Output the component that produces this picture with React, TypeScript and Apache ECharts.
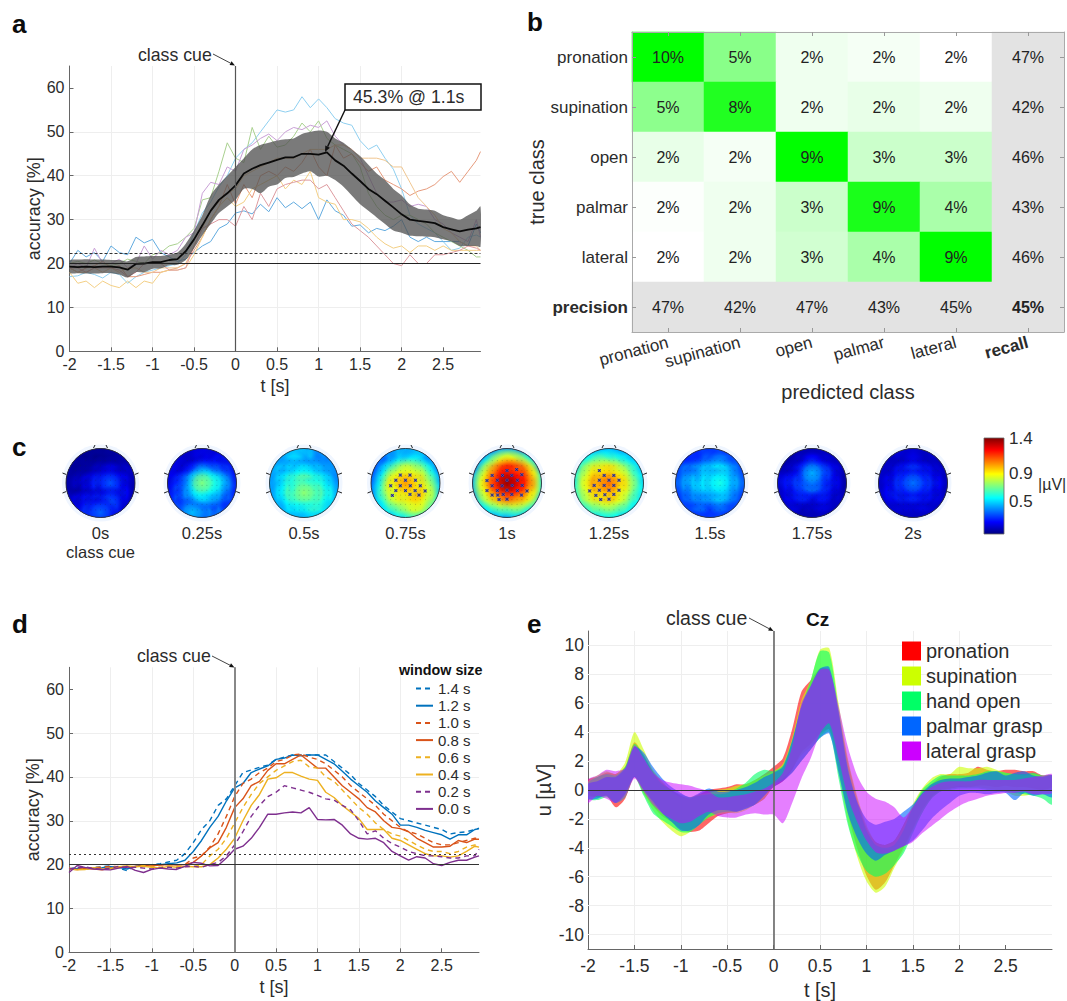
import React, { useEffect, useRef } from "react";
import * as echarts from "echarts";

const FONT = "Liberation Sans";
const INK = "#2b2b2b";

// ---------- panel a / d ----------
const timeA = [-2,-1.9,-1.8,-1.7,-1.6,-1.5,-1.4,-1.3,-1.2,-1.1,-1,-0.9,-0.8,-0.7,-0.6,-0.5,-0.4,-0.3,-0.2,-0.1,0,0.1,0.2,0.3,0.4,0.5,0.6,0.7,0.8,0.9,1,1.1,1.2,1.3,1.4,1.5,1.6,1.7,1.8,1.9,2,2.1,2.2,2.3,2.4,2.5,2.6,2.7,2.8,2.9,2.95];
const meanAcc = [19.3,19.2,19.3,19.2,19.3,19.3,19.1,18.6,19.9,20,20.3,20.3,20.8,21,22.8,25.5,28.7,32,34.5,36,37.8,40.5,41.6,42.4,43,43.6,44.2,44.2,45,45,44.8,45.3,43.5,42.3,40.5,38.8,37,35.8,34.3,32.8,31.2,30,29.7,29.5,29.2,28.3,27.8,27.3,27.7,28,28.3];
const upperAcc = [20.7,20.9,21,20.9,20.9,20.8,20.8,20.5,21.5,21.6,21.7,21.7,22,22.5,24.5,27.5,31,35.5,38,40,42,44,46,47,47.5,48,48.3,48.5,49.5,50,50.3,50,48.5,47.5,46,44.5,42.5,40.5,39,37,35.5,33.5,32.5,32.3,32,31,30.5,30,31,32,33];
const lowerAcc = [17.9,17.8,17.7,17.7,17.8,17.8,17.5,16.8,18,18,18.8,18.9,19.6,19.7,20.8,23.5,26.4,29,31.5,33,34.5,37,37,36,37.5,38,39.5,39.7,40.5,41,39.8,40,39,37.5,35.5,33.5,32,30.5,29,27.5,27,26.3,26.2,26.1,26,25.5,25,24,24,24,23.8];
const subj1 = [17,17.2,18,17.5,16.7,18,17.5,15.5,17,18,18.5,19,19.5,20,22,27,31.5,34,37.5,40,44,46,47.5,50,52.5,55,54.5,55,58,55.5,57.5,55.5,53,52,51.5,48,46,47,44,41.5,37,31,29,28,27,25,23,23.5,26,26.5,26];
const subj2 = [20,23,21.5,22.5,20.5,24,22.5,22,26,24.7,25.5,22.5,21.5,20.5,21,22.5,24,25,28,29,31.5,32,31.3,33.5,31.8,35,32.7,34,32.5,34,30,34.5,32,31,28.5,28.8,27,28,27.5,28.5,30,26,25,26,25,25,25,25,24,29,27];
const subj3 = [20,20.5,20,20.8,20,19.5,20,21,20.5,20,22,22.5,24,24.5,26,28,34.5,35,41,47.5,44,43,51,46,49,46.5,47,49,52,50,52.5,48.5,47,46,45,42,36,33,31,30,31,31,30,29,27,26,25,24,23,21.5,21.5];
const subj4 = [19,20,19,23.5,20,20,21,19,20,24,21,23,22,23,26,27,36,38.5,38,42,41,46,47,48.5,49.5,48,50,51,50.5,51.5,51,52.5,49,47,46,44,40,36,34,34,34.5,33,33.5,33,30,29,27,26,25,30,26];
const subj5 = [19,18,19,19.5,20.5,19,19.5,17,17,17.5,18,18,18.5,19,20,23,26,30,33,38,33.5,38,35,40,41,40,42,41,43,46,42,40,47,44,45,43,41,42,39,38,37,35.5,36.5,37,38,39.8,41,38.5,41,43.5,45.5];
const subj6 = [18,15.5,16,14.5,16,15,14.5,16,14.5,16,15.5,18,18.5,18.5,19,22,26,30,33,35,33,34,37,38,39,40,37,39,38,41,35,34,33.5,30,30,29.5,28,26,24.5,23.5,24,22.5,24,24,23,24,23,23,23,23,23];
const subj7 = [19,18,18,19,18,19,18,19,19,18,18,19,19,19,20,24,28,32,34,36,37,40,41,42,43,44,44,44,45,46,46,46,47,47,46,44,44,44,43.5,42,42,38.5,35,33,31,28,27,25,24,24,23];
const subj8 = [19,19,18,19,19,19,18.5,17,18,20,20,20,18.5,18.5,19,24,28,29,30,30,28.5,33,30,36,33,37,38,38.5,39,39,37,38,35,32,29,27.5,26,24,22,20,19.5,22,20,20,22,22,22.5,23,24,23.5,23];
const subjectSeries = [subj1, subj2, subj3, subj4, subj5, subj6, subj7, subj8];
const subjectColors = ["#8ecff0", "#62abdf", "#a9d08f", "#c9a0d6", "#e69a7c", "#f3cf85", "#f0c690", "#dd9a9f"];

const win14 = [19,19.4,19,19.3,19.5,19.7,19.2,18.6,19.7,20,20,20.2,20.6,21,22.5,25,28,30,33.5,35,38,41,41.6,42.2,42.7,44,44.5,45,45,45,45,45,43.5,42,40.5,38.5,37,35.5,33.5,32,30.5,30,29.5,29,28.5,28,27,27.3,27.5,28,28.3];
const win12 = [19,19.1,19.3,19.2,19.3,19.5,19.4,19,19.6,19.9,20,20,20.2,20.4,21,23,25.5,28.5,31,34.5,37.5,38.5,41,41.8,42.5,44,44.3,45,44.8,45,45,44,43,41.3,39.5,38,36.5,34.5,33,31.5,29,29,28.5,27.8,27.3,26.8,25.8,26.8,26.8,28,28.2];
const win10 = [19.2,19,19.2,19.3,19.4,19.6,19.5,19.4,19.6,19.8,19.9,20,20,20,20,21.5,22,24,27,31,35.5,38.5,39.5,41,42,43.5,44,45,45.2,44.5,44,43,41.5,40,38,36.5,35,33.5,31.5,30,28.5,27.5,27,26,25,24.5,24.5,25,25.5,26,26];
const win08 = [19,18.9,19.1,19,18.8,19.2,19.3,19.5,19.6,19.8,19.7,19.9,20,19.9,20,20.5,22,23.8,25,28.5,33,35,38,39,41.5,43,43,44,45,43.5,42,42,40,38,36.5,35,33,32,30,28.5,28.2,27.5,26,25,24,24,24.2,25.5,25,25.8,25.8];
const win06 = [19.1,18.9,19,19.2,19,19.3,19.6,19.6,19.5,19.8,19.6,19.4,19.7,19.5,19.7,19.6,20,22,23.5,26,29.5,33,36,38.5,40,41.5,42.5,43.5,43.8,42.3,42,40,39,37,35,33,31.5,29.5,28,27,26.5,25.5,24.5,23.5,23,23,22.5,23,24,24.5,24];
const win04 = [19,18.8,18.9,19.3,19,19.1,19.5,19.7,19.5,19.6,19.4,19.2,19.6,19.4,19.6,19.5,19.5,20,21.5,23.5,26,30,33.5,36,39.5,39.8,41,41,40.2,39.5,39.2,36.5,35.3,33.5,32,30.5,28,28,28,26,25.5,24.5,23.5,22.5,22,22,21.7,22,23,24.2,24];
const win02 = [19,19.2,19.5,19.1,18.9,19.2,19.6,19.3,19.4,19.2,19,19.2,19.4,19.2,19.5,19.6,19.4,20,20.5,22,24.5,27.5,31,33.5,35.5,36.5,38,37.5,37,36.5,35.8,35,34.7,33.5,32.5,30,27,27.7,26,24.8,24,23,22.5,22,22,21.8,21.5,21.5,22,22,23.5];
const win00 = [18.2,19.8,19.3,19,18.9,18.8,19.2,19.6,18.7,18.2,18.9,19.2,19,18.9,19.6,20.5,20.3,19.7,19.8,21.5,23.5,24.2,26,28.5,31.5,31.5,31.8,32,31.8,33,30.3,30.2,30.3,29,27,26,25.8,26,25,23,22,21,21.8,21.5,20.2,19.8,20.5,21,21,21.7,22];
const windowNames = ["1.4 s", "1.2 s", "1.0 s", "0.8 s", "0.6 s", "0.4 s", "0.2 s", "0.0 s"];
const windowValues = [win14, win12, win10, win08, win06, win04, win02, win00];
const windowColors = ["#0072BD", "#0072BD", "#D95319", "#D95319", "#EDB120", "#EDB120", "#7E2F8E", "#7E2F8E"];

// ---------- panel b ----------
const classes = ["pronation", "supination", "open", "palmar", "lateral"];
const confusion = [
  [10.4, 5.2, 2.1, 1.9, 1.6],
  [5.1, 8.4, 2.1, 2.3, 2.1],
  [2.3, 1.9, 9.4, 3.2, 3.2],
  [1.7, 2.1, 3.2, 8.6, 4.2],
  [1.6, 2.1, 3.0, 4.2, 9.4],
];
const recallValues = [47, 42, 46, 43, 46];
const precisionValues = [47, 42, 47, 43, 45];
const overallValue = 45;

// ---------- panel c ----------
const topoLabels = ["0s", "0.25s", "0.5s", "0.75s", "1s", "1.25s", "1.5s", "1.75s", "2s"];
const topo0 = [[.12,.10,.08,.08,.10,.12,.14],[.12,.10,.08,.10,.12,.14,.16],[.12,.12,.14,.20,.22,.20,.18],[.14,.18,.24,.30,.32,.26,.16],[.16,.16,.24,.28,.30,.26,.14],[.20,.24,.28,.30,.32,.24,.12],[.22,.26,.32,.34,.30,.20,.14]];
const topo1 = [[.20,.18,.16,.22,.24,.24,.24],[.22,.18,.14,.20,.24,.28,.30],[.22,.18,.28,.42,.40,.34,.30],[.26,.32,.46,.72,.62,.46,.30],[.30,.38,.46,.56,.52,.42,.32],[.32,.38,.42,.44,.42,.38,.34],[.34,.40,.46,.44,.42,.38,.36]];
const topo2 = [[.50,.48,.54,.52,.42,.42,.44],[.50,.50,.54,.50,.42,.40,.42],[.50,.54,.56,.56,.54,.48,.40],[.50,.56,.68,.72,.66,.56,.42],[.50,.56,.70,.74,.72,.62,.50],[.50,.54,.60,.62,.66,.60,.50],[.48,.50,.54,.54,.56,.52,.50]];
const topo3 = [[.30,.42,.50,.56,.56,.46,.40],[.30,.42,.50,.56,.56,.48,.42],[.34,.50,.72,.88,.84,.62,.44],[.38,.62,.96,1.02,1.0,.78,.48],[.40,.66,.92,.98,1.0,.86,.52],[.42,.58,.72,.82,.92,.78,.52],[.44,.50,.54,.62,.66,.58,.50]];
const topo4 = [[.24,.30,.38,.42,.38,.30,.20],[.30,.46,.76,.92,.84,.56,.28],[.38,.78,1.08,1.26,1.22,.96,.46],[.46,.92,1.18,1.36,1.28,1.06,.56],[.42,.84,1.04,1.14,1.10,.96,.54],[.38,.58,.72,.78,.78,.66,.44],[.34,.40,.46,.48,.48,.42,.34]];
const topo5 = [[.50,.42,.44,.50,.48,.46,.42],[.54,.62,.70,.68,.62,.56,.48],[.58,.84,.98,.98,.86,.68,.54],[.62,.90,1.08,1.08,.98,.76,.58],[.62,.86,1.00,1.02,.92,.72,.58],[.58,.70,.78,.80,.74,.62,.54],[.52,.56,.58,.60,.58,.54,.50]];
const topo6 = [[.34,.30,.28,.36,.36,.34,.32],[.30,.26,.32,.40,.42,.40,.34],[.38,.44,.48,.56,.58,.46,.38],[.40,.48,.54,.58,.58,.50,.40],[.36,.42,.48,.50,.54,.44,.38],[.34,.38,.40,.38,.40,.38,.36],[.30,.34,.36,.36,.36,.34,.34]];
const topo7 = [[.16,.12,.14,.18,.18,.16,.16],[.10,.12,.20,.26,.22,.20,.14],[.14,.20,.28,.44,.34,.24,.12],[.24,.28,.34,.42,.32,.24,.12],[.22,.26,.30,.28,.28,.22,.14],[.18,.22,.20,.20,.22,.20,.16],[.16,.16,.16,.18,.18,.16,.16]];
const topo8 = [[.20,.18,.20,.20,.18,.18,.16],[.18,.14,.18,.22,.18,.14,.12],[.18,.20,.28,.32,.28,.22,.14],[.20,.26,.32,.36,.32,.26,.16],[.20,.26,.30,.30,.28,.24,.14],[.18,.22,.22,.22,.22,.20,.14],[.16,.18,.18,.18,.18,.18,.14]];
const topoValues = [topo0, topo1, topo2, topo3, topo4, topo5, topo6, topo7, topo8];
const crosses3 = [[-.43,-.08],[-.28,.08],[-.15,.23],[.13,.23],[0,.08],[.29,.08],[-.15,-.08],[.14,-.08],[.43,-.08],[-.28,-.22],[0,-.22],[.28,-.22],[.57,-.23],[-.38,-.36],[.13,-.33],[.39,-.35]];
const crosses4 = [[-.58,.07],[-.43,.22],[-.28,.08],[-.13,.22],[0,.36],[.14,.22],[.28,.39],[.43,.24],[.30,.08],[0,.08],[-.43,-.08],[-.28,-.22],[-.14,-.08],[0,-.21],[.15,-.07],[.44,-.07],[.30,-.22],[.58,-.23],[-.58,-.22],[-.43,-.35],[-.27,-.35],[-.11,-.33],[.14,-.33],[.42,-.35],[-.23,-.48],[0,-.47]];
const crosses5 = [[-.28,.36],[-.14,.22],[.14,.22],[-.28,.08],[0,.08],[.29,.08],[-.43,-.07],[-.14,-.07],[.14,-.07],[-.28,-.21],[0,-.21],[.29,-.21],[-.56,-.23],[-.38,-.36],[-.12,-.34],[.14,-.33],[-.24,-.48],[0,-.47]];
const crossLists: Record<number, number[][]> = { 3: crosses3, 4: crosses4, 5: crosses5 };
const electrodeRows = [.65, .5, .36, .22, .08, -.07, -.21, -.35, -.48, -.62, -.78];
const electrodeCols = [-.72, -.58, -.43, -.28, -.14, 0, .14, .29, .43, .58, .72];
const colorbarTicks = [0.5, 0.9, 1.4];

// ---------- panel e ----------
const timeE = [-2,-1.9,-1.8,-1.7,-1.6,-1.5,-1.4,-1.3,-1.2,-1.1,-1,-0.9,-0.8,-0.7,-0.6,-0.5,-0.4,-0.3,-0.2,-0.1,0,0.1,0.2,0.3,0.4,0.5,0.6,0.7,0.8,0.9,1,1.1,1.2,1.3,1.4,1.5,1.6,1.7,1.8,1.9,2,2.1,2.2,2.3,2.4,2.5,2.6,2.7,2.8,2.9,3];
const pronHi = [.7,.9,1.2,1.1,1.6,3.3,2.4,1.3,.5,0,-.4,-.6,-.3,0,.1,.2,.4,.4,.7,1.1,1.6,2.2,4.2,6.8,7.6,8.4,8.3,5.4,2,-.6,-2.6,-3.6,-3.8,-3.5,-2.4,-1.2,-.1,.4,.9,1.1,1.1,1.2,1.6,1.4,1.3,1.4,1.4,1.3,1.3,1,1];
const pronLo = [-.3,-.5,-.4,-1.2,-.6,.9,-.2,-1.1,-1.8,-2.2,-2.7,-2.9,-2.8,-2.3,-1.8,-1.6,-1.5,-1.2,-1,-.6,.2,.6,1.4,2.6,3.2,3.9,4.2,1.6,-1.6,-4,-5.9,-6.9,-6.4,-5.2,-4,-2.7,-1.4,-.5,0,.1,.2,.2,.3,.3,.2,.3,.2,.2,.1,0,.2];
const supHi = [.6,1,1.3,1.1,1.9,4,2.8,1.4,.6,-.1,-.5,-.5,-.3,-.2,0,.1,.3,.4,.7,1,1.3,1.8,3.6,6.2,7.6,9.7,9.8,6,2.2,-.4,-2.4,-3.6,-3.8,-3.5,-2.4,-1,.1,.8,1.1,1.1,1.6,1.5,1.5,1.6,1.4,1.2,1.1,1,1.1,1,1];
const supLo = [-.4,-.5,-.4,-.8,-.5,1,-.3,-1.4,-2.2,-2.8,-3.2,-2.9,-2.3,-1.9,-1.7,-1.6,-1.6,-1.4,-1,-.6,.3,.8,1.5,2.4,3,3.7,4.2,1.2,-2.2,-4.6,-6.3,-7.1,-6.7,-5.4,-4.2,-2.8,-1.6,-.6,-.1,.1,.3,.2,.2,.1,0,-.1,-.4,-.4,-.3,-.2,-.1];
const openHi = [.5,.9,1.1,1,1.6,3.2,2.4,1.2,.4,0,-.3,-.5,-.4,-.3,-.3,-.2,.1,.5,1.1,1.4,1.3,1.7,3.4,5.8,7.6,9.6,9.5,5.6,1.6,-.9,-2.8,-3.8,-4,-3.8,-2.8,-1.2,0,.6,1,1,1,1,1.1,1.3,1.3,1.2,1.1,1.1,1.2,1,1];
const openLo = [-.6,-.7,-.5,-.9,-.5,.9,-.4,-1.6,-2.1,-2.5,-2.9,-2.9,-2.4,-1.9,-1.6,-1.5,-1.5,-1.3,-1,-.4,.4,.7,1.2,2,2.8,3.6,4,.8,-2.4,-4.4,-5.6,-6,-5.8,-5.2,-4.4,-3,-1.6,-.6,-.1,0,.1,.1,.1,0,-.1,-.1,-.2,-.3,-.4,-.6,-1];
const palmHi = [.4,.6,.9,.9,1.5,3,2.6,1.6,.8,.2,-.2,-.5,-.2,.1,-.1,-.1,0,.2,.5,.9,1.2,1.6,3.4,5.8,7.2,8.4,8.5,5.4,1.4,-.8,-2,-2.4,-2.2,-2,-1.5,-1,-.2,.4,.7,.8,.8,.9,1,1.2,1.3,1,1.2,1.3,1,.9,1];
const palmLo = [-.6,-.6,-.4,-.9,-.3,.9,0,-.8,-1.6,-2.2,-2.8,-2.8,-2.4,-1.7,-1.4,-1.4,-1.5,-1.3,-1,-.4,.2,.6,1.2,2,2.8,3.6,3.9,1.2,-1.6,-3.3,-4.4,-4.9,-4.5,-4.2,-3.9,-3.5,-2.8,-2,-1.4,-.9,-.4,-.2,-.2,-.3,-.2,-.2,-.7,-.2,-.4,-.3,-.5];
const latHi = [.7,1,1.4,1.3,1.5,3.1,2.2,1.2,.7,.5,.4,.3,.1,-.1,-.5,-.5,-.4,-.3,-.1,.1,.5,1.2,3,6,7.2,8.3,8.3,5.8,3,1,-.1,-.6,-.8,-1.2,-1.9,-1.2,-.3,.2,.5,.6,.6,.6,.7,.7,.7,.7,.7,.8,.9,1,1.1];
const latLo = [-.9,-.4,-.6,-.9,-.5,.8,-.1,-1,-1.6,-2,-2.3,-2.2,-1.8,-1.5,-1.8,-1.9,-1.9,-1.7,-1.6,-1.7,-1.7,-2.3,-.9,.8,2.2,3.9,4.6,2.2,-.5,-2.2,-3.5,-4.3,-4.4,-4.2,-3.9,-3.6,-3,-2.5,-2,-1.5,-1.1,-.8,-.6,-.4,-.3,-.2,-.2,-.1,-.3,-.3,-.2];
const erpNames = ["pronation", "supination", "hand open", "palmar grasp", "lateral grasp"];
const erpHi = [pronHi, supHi, openHi, palmHi, latHi];
const erpLo = [pronLo, supLo, openLo, palmLo, latLo];
const erpColors = ["#ff0000", "#ccff00", "#00ff66", "#0066ff", "#cc00ff"];
const erpOpacity = [0.6, 0.6, 0.6, 0.6, 0.5];

const accTicks = [0, 10, 20, 30, 40, 50, 60];
const timeTicks = [-2, -1.5, -1, -0.5, 0, 0.5, 1, 1.5, 2, 2.5];
const erpTicks = [-10, -8, -6, -4, -2, 0, 2, 4, 6, 8, 10];

// ---------- helpers ----------
const clamp = (v: number) => Math.max(0, Math.min(1, v));
const CBAR_MIN = 0.04, CBAR_MAX = 1.4;
function jet(v: number, a = 1) {
  const f = (v - CBAR_MIN) / (CBAR_MAX - CBAR_MIN);
  const c = (k: number) => Math.round(255 * clamp(1.5 - Math.abs(4 * f - k)));
  return `rgba(${c(3)},${c(2)},${c(1)},${a})`;
}

const axisLabelStyle = { color: INK, fontFamily: FONT, fontSize: 16, margin: 5 };
const nameStyle = { color: INK, fontFamily: FONT, fontSize: 18 };
const bigName = { color: INK, fontFamily: FONT, fontSize: 20 };
const axisLineGray = { show: true, onZero: false, lineStyle: { color: "#666", width: 1 } };
const gridLine = { show: true, lineStyle: { color: "#eeeeee", width: 1, type: "solid" } };

function timeAxis(gridIndex: number, max: number, big = false) {
  return {
    type: "value", gridIndex, min: -2, max, interval: 0.5, name: "t [s]", nameLocation: "middle",
    nameGap: big ? 31 : 26, nameTextStyle: big ? bigName : nameStyle,
    axisLine: axisLineGray,
    axisTick: { show: true, inside: true, length: 4, customValues: timeTicks, lineStyle: { color: "#666" } },
    axisLabel: {
      ...axisLabelStyle, fontSize: big ? 17.5 : 16, margin: big ? 8 : 5,
      customValues: timeTicks, formatter: (v: number) => String(v),
    },
    splitLine: { ...gridLine, showMaxLine: false, showMinLine: false },
  };
}
function accAxis(gridIndex: number) {
  return {
    type: "value", gridIndex, min: 0, max: 65, interval: 10, name: "accuracy [%]", nameLocation: "middle",
    nameGap: 18, nameTextStyle: nameStyle,
    axisLine: axisLineGray,
    axisTick: { show: true, inside: true, length: 4, customValues: accTicks, lineStyle: { color: "#666" } },
    axisLabel: { ...axisLabelStyle, customValues: accTicks },
    splitLine: { ...gridLine, showMaxLine: false, showMinLine: false },
  };
}
function refLines(xi: number, yi: number, items: any[], z = 8) {
  return {
    type: "line", xAxisIndex: xi, yAxisIndex: yi, data: [], z, silent: true,
    markLine: { z, silent: true, symbol: ["none", "none"], label: { show: false }, animation: false, data: items },
  };
}
function bandSeries(xi: number, yi: number, t: number[], lo: number[], hi: number[], fill: string, name: string, opaque: string, z: number) {
  return {
    type: "custom", name, xAxisIndex: xi, yAxisIndex: yi, z, silent: true, clip: true,
    itemStyle: { color: opaque },
    encode: { x: 0, y: [1, 2] },
    data: t.map((x, i) => [x, lo[i], hi[i]]),
    renderItem: (params: any, api: any) => {
      if (params.dataIndex !== 0) return null;
      const top = t.map((x, i) => api.coord([x, hi[i]]));
      const bot = t.map((x, i) => api.coord([x, lo[i]])).reverse();
      return { type: "polygon", shape: { points: top.concat(bot), smooth: 0.25 }, style: { fill, stroke: "none" } };
    },
  };
}
function arrow(x1: number, y1: number, x2: number, y2: number, width: number, head: number) {
  const a = Math.atan2(y2 - y1, x2 - x1);
  const px = Math.cos(a + Math.PI / 2) * head * 0.42, py = Math.sin(a + Math.PI / 2) * head * 0.42;
  const bx = x2 - Math.cos(a) * head, by = y2 - Math.sin(a) * head;
  return [
    { type: "line", z: 20, shape: { x1, y1, x2: bx, y2: by }, style: { stroke: "#111", lineWidth: width } },
    { type: "polygon", z: 20, shape: { points: [[x2, y2], [bx + px, by + py], [bx - px, by - py]] }, style: { fill: "#111" } },
  ];
}
function txt(x: number, y: number, text: string, fontSize: number, extra: any = {}) {
  return {
    type: "text", z: 20, x, y,
    style: { text, fontFamily: FONT, fontSize, fill: INK, textVerticalAlign: "middle", verticalAlign: "middle", ...extra },
  };
}

// ---------- options ----------
const HEAD_R = 34.5;
const HEAD_Y = 483;
const HEAD_X = [100.5, 202, 304, 405.5, 507, 609, 710, 812, 913];

function buildOption() {
  const grid: any[] = [];
  const xAxis: any[] = [];
  const yAxis: any[] = [];
  const series: any[] = [];
  const graphic: any[] = [];

  // a
  grid.push({ left: 69.5, top: 66, width: 411, height: 285.3 });
  xAxis.push(timeAxis(0, 2.95));
  yAxis.push(accAxis(0));
  subjectSeries.forEach((vals, k) => {
    series.push({
      type: "line", name: `s${k + 1}`, xAxisIndex: 0, yAxisIndex: 0, showSymbol: false, silent: true, z: 2,
      lineStyle: { width: 1, color: subjectColors[k] },
      data: timeA.map((x, i) => [x, vals[i]]),
    });
  });
  series.push(bandSeries(0, 0, timeA, lowerAcc, upperAcc, "rgba(80,80,80,0.76)", "std", "#555", 3));
  series.push({
    type: "line", name: "mean", xAxisIndex: 0, yAxisIndex: 0, showSymbol: false, silent: true, z: 4,
    lineStyle: { width: 1.8, color: "#0a0a0a" }, data: timeA.map((x, i) => [x, meanAcc[i]]),
  });
  series.push(refLines(0, 0, [
    { xAxis: 0, lineStyle: { color: "#555", width: 1.2, type: "solid" } },
    { yAxis: 20, lineStyle: { color: "#222", width: 1, type: "solid" } },
    { yAxis: 22.3, lineStyle: { color: "#333", width: 1, type: [3, 2] } },
  ]));

  // b — grid 1
  const bx = xAxis.length, by = yAxis.length;
  grid.push({ left: 632, top: 32, width: 432, height: 300 });
  const xCats = [...classes, "recall"], yCats = [...classes, "precision"];
  const tickStyle = { show: true, inside: true, length: 4, alignWithLabel: true, lineStyle: { color: "#999" } };
  const frame = { show: true, onZero: false, lineStyle: { color: "#aaa", width: 1 } };
  xAxis.push({
    type: "category", gridIndex: 1, data: xCats, position: "bottom", z: 6, name: "predicted class", nameLocation: "middle",
    nameGap: 50, nameTextStyle: bigName, axisLine: frame, axisTick: tickStyle, splitLine: { show: false },
    axisLabel: {
      color: INK, fontFamily: FONT, fontSize: 17, rotate: 15, margin: 10, interval: 0,
      formatter: (v: string) => (v === "recall" ? `{b|${v}}` : v),
      rich: { b: { fontWeight: "bold", fontFamily: FONT, fontSize: 17, color: INK } },
    },
  });
  xAxis.push({
    type: "category", gridIndex: 1, data: xCats, position: "top", z: 6, axisLine: frame, axisTick: tickStyle,
    axisLabel: { show: false }, splitLine: { show: false },
  });
  yAxis.push({
    type: "category", gridIndex: 1, data: yCats, inverse: true, position: "left", z: 6, name: "true class", nameLocation: "middle",
    nameGap: 84, nameTextStyle: bigName, axisLine: frame, axisTick: tickStyle, splitLine: { show: false },
    axisLabel: {
      color: INK, fontFamily: FONT, fontSize: 17, margin: 4, interval: 0,
      formatter: (v: string) => (v === "precision" ? `{b|${v}}` : v),
      rich: { b: { fontWeight: "bold", fontFamily: FONT, fontSize: 17, color: INK } },
    },
  });
  yAxis.push({
    type: "category", gridIndex: 1, data: yCats, inverse: true, position: "right", z: 6, axisLine: frame, axisTick: tickStyle,
    axisLabel: { show: false }, splitLine: { show: false },
  });
  const heatIdx = series.length;
  const cellLabel = { show: true, color: "#222", fontFamily: FONT, fontSize: 16 };
  series.push({
    type: "heatmap", xAxisIndex: bx, yAxisIndex: by, silent: true, z: 2,
    label: { ...cellLabel, formatter: (p: any) => `${Math.round(p.value[2])}%` },
    data: confusion.flatMap((row, r) => row.map((v, c) => [c, r, v])),
  });
  const totals: any[] = [
    ...recallValues.map((v, r) => [5, r, v]),
    ...precisionValues.map((v, c) => [c, 5, v]),
    { value: [5, 5, overallValue], label: { fontWeight: "bold" } },
  ];
  series.push({
    type: "heatmap", xAxisIndex: bx, yAxisIndex: by, silent: true, z: 2,
    label: { ...cellLabel, formatter: (p: any) => `${p.value[2]}%` },
    data: totals,
  });

  // c — one grid per head
  topoValues.forEach((mat, h) => {
    const gi = grid.length, xi = xAxis.length, yi = yAxis.length;
    const cx = HEAD_X[h];
    grid.push({ left: cx - HEAD_R, top: HEAD_Y - HEAD_R, width: HEAD_R * 2, height: HEAD_R * 2 });
    xAxis.push({ type: "value", gridIndex: gi, min: -1, max: 1, show: false });
    yAxis.push({ type: "value", gridIndex: gi, min: -1, max: 1, show: false });
    const n = mat.length;
    const cells: number[][] = [];
    mat.forEach((row, r) => row.forEach((v, c) => {
      const x = -1 + (2 * c + 1) / n, y = 1 - (2 * r + 1) / n;
      if (x * x + y * y < 1.45) cells.push([x, y, v]);
    }));
    cells.sort((p, q) => p[2] - q[2]);
    const lowest = cells[0][2];
    graphic.push({ type: "circle", z: 0, shape: { cx, cy: HEAD_Y, r: HEAD_R + 4 }, style: { fill: "#f0f6ff" } });
    graphic.push({ type: "circle", z: 1, shape: { cx, cy: HEAD_Y, r: HEAD_R }, style: { fill: jet(lowest) } });
    series.push({
      type: "custom", xAxisIndex: xi, yAxisIndex: yi, silent: true, z: 2, clip: false,
      encode: { x: 0, y: 1 }, data: cells,
      renderItem: (_p: any, api: any) => {
        const v = api.value(2);
        const [px, py] = api.coord([api.value(0), api.value(1)]);
        const unit = api.size([1, 0])[0];
        const r = unit * 0.5;
        return {
          type: "circle", shape: { cx: px, cy: py, r },
          style: {
            fill: new echarts.graphic.RadialGradient(0.5, 0.5, 0.5, [
              { offset: 0, color: jet(v, 1) },
              { offset: 0.45, color: jet(v - 0.05, 0.8) },
              { offset: 0.75, color: jet(Math.max(lowest, v - 0.16), 0.4) },
              { offset: 1, color: jet(Math.max(lowest, v - 0.26), 0) },
            ]),
          },
          clipPath: { type: "circle", shape: { cx, cy: HEAD_Y, r: HEAD_R } },
        };
      },
    });
    const dots: number[][] = [];
    electrodeRows.forEach((y) => electrodeCols.forEach((x) => { if (x * x + y * y < 0.72) dots.push([x, y]); }));
    series.push({
      type: "scatter", xAxisIndex: xi, yAxisIndex: yi, silent: true, z: 3, symbol: "circle", symbolSize: 1,
      itemStyle: { color: "rgba(20,40,60,0.35)" }, data: dots,
    });
    if (crossLists[h]) {
      series.push({
        type: "scatter", xAxisIndex: xi, yAxisIndex: yi, silent: true, z: 4, symbol: "rect", symbolSize: 3,
        itemStyle: { color: "#4450e0" }, data: crossLists[h],
      });
      series.push({
        type: "scatter", xAxisIndex: xi, yAxisIndex: yi, silent: true, z: 5, symbol: "path://M0 0L10 10M10 0L0 10", symbolSize: 3,
        itemStyle: { color: "none", borderColor: "#15153a", borderWidth: 0.7 }, data: crossLists[h],
      });
    }
    graphic.push({ type: "circle", z: 6, shape: { cx, cy: HEAD_Y, r: HEAD_R }, style: { fill: "none", stroke: "#333", lineWidth: 0.9 } });
    const tick = (pts: number[][]) => graphic.push({ type: "polyline", z: 6, shape: { points: pts }, style: { stroke: "#222", lineWidth: 1, fill: "none" } });
    tick([[cx - 7, HEAD_Y - HEAD_R - 0.5], [cx - 5.5, HEAD_Y - HEAD_R - 3.5]]);
    tick([[cx + 7, HEAD_Y - HEAD_R - 0.5], [cx + 5.5, HEAD_Y - HEAD_R - 3.5]]);
    [-1, 1].forEach((s) => [-8.5, 8.5].forEach((d) => {
      tick([[cx + s * (HEAD_R - 0.3), HEAD_Y + d], [cx + s * (HEAD_R + 3.5), HEAD_Y + d + (d < 0 ? -1.5 : 1.5)]]);
    }));
    graphic.push(txt(cx, 533, topoLabels[h], 16.5, { textAlign: "center", align: "center" }));
  });
  graphic.push(txt(HEAD_X[0], 552, "class cue", 16.5, { textAlign: "center", align: "center" }));

  // colourbar
  {
    const gi = grid.length, xi = xAxis.length, yi = yAxis.length;
    grid.push({ left: 984, top: 438, width: 20, height: 96 });
    xAxis.push({ type: "value", gridIndex: gi, min: 0, max: 1, show: false });
    yAxis.push({
      type: "value", gridIndex: gi, min: CBAR_MIN, max: CBAR_MAX, position: "right", splitLine: { show: false },
      axisLine: { show: false }, axisTick: { show: false },
      axisLabel: { ...axisLabelStyle, fontSize: 17, margin: 5, customValues: colorbarTicks, formatter: (v: number) => v.toFixed(1) },
    });
    series.push({
      type: "custom", xAxisIndex: xi, yAxisIndex: yi, silent: true, z: 3, data: [[0, CBAR_MIN, 1, CBAR_MAX]], clip: false,
      encode: { x: [0, 2], y: [1, 3] },
      renderItem: (_p: any, api: any) => {
        const a = api.coord([api.value(0), api.value(3)]);
        const b = api.coord([api.value(2), api.value(1)]);
        return {
          type: "rect", shape: { x: a[0], y: a[1], width: b[0] - a[0], height: b[1] - a[1] },
          style: {
            stroke: "#666", lineWidth: 0.8,
            fill: new echarts.graphic.LinearGradient(0, 1, 0, 0, [0, .125, .375, .625, .875, 1].map((f) => ({
              offset: f, color: jet(CBAR_MIN + f * (CBAR_MAX - CBAR_MIN)),
            }))),
          },
        };
      },
    });
    graphic.push(txt(1038, 484, "|µV|", 16));
  }

  // d
  {
    const gi = grid.length, xi = xAxis.length, yi = yAxis.length;
    grid.push({ left: 69, top: 667.3, width: 410, height: 285 });
    xAxis.push(timeAxis(gi, 2.95));
    yAxis.push(accAxis(gi));
    windowValues.forEach((vals, k) => {
      series.push({
        type: "line", name: windowNames[k], xAxisIndex: xi, yAxisIndex: yi, showSymbol: false, symbol: "none", silent: true, z: 3,
        lineStyle: { width: 1.4, color: windowColors[k], type: k % 2 === 0 ? [5, 4] : "solid" },
        itemStyle: { color: windowColors[k] },
        data: timeA.map((x, i) => [x, vals[i]]),
      });
    });
    series.push(refLines(xi, yi, [
      { xAxis: 0, lineStyle: { color: "#888", width: 2, type: "solid" } },
      { yAxis: 20, lineStyle: { color: "#333", width: 1, type: "solid" } },
      { yAxis: 22.3, lineStyle: { color: "#333", width: 1, type: [2, 3] } },
    ]));
  }

  // e
  {
    const gi = grid.length, xi = xAxis.length, yi = yAxis.length;
    grid.push({ left: 588, top: 631, width: 464, height: 320 });
    xAxis.push(timeAxis(gi, 3, true));
    yAxis.push({
      type: "value", gridIndex: gi, min: -11, max: 11, name: "u [µV]", nameLocation: "middle", nameGap: 34, nameTextStyle: bigName,
      axisLine: axisLineGray,
      axisTick: { show: true, inside: true, length: 4, customValues: erpTicks, lineStyle: { color: "#666" } },
      axisLabel: { ...axisLabelStyle, fontSize: 17.5, margin: 4, customValues: erpTicks },
      splitLine: { show: false },
    });
    series.push(refLines(xi, yi, erpTicks.map((v) => ({ yAxis: v, lineStyle: gridLine.lineStyle })), 1));
    erpNames.forEach((name, k) => {
      const [r, g, b] = [1, 3, 5].map((p) => parseInt(erpColors[k].slice(p, p + 2), 16));
      series.push(bandSeries(xi, yi, timeE, erpLo[k], erpHi[k], `rgba(${r},${g},${b},${erpOpacity[k]})`, name, erpColors[k], 3 + k));
    });
    series.push(refLines(xi, yi, [
      { xAxis: 0, lineStyle: { color: "#666", width: 1.6, type: "solid" } },
      { yAxis: 0, lineStyle: { color: "#333", width: 1, type: "solid" } },
    ], 9));
  }

  // annotations
  graphic.push(txt(138, 55, "class cue", 17.7));
  graphic.push(...arrow(213, 54, 235, 65.5, 0.8, 5));
  graphic.push(txt(137, 656, "class cue", 17.7));
  graphic.push(...arrow(212, 656, 234.5, 667.5, 0.8, 5));
  graphic.push(txt(666, 618, "class cue", 19.5));
  graphic.push(...arrow(749, 618, 773.5, 631, 0.8, 5));
  graphic.push(txt(806, 619, "Cz", 19, { fontWeight: "bold", fill: "#111" }));
  graphic.push(txt(399, 670, "window size", 14.3, { fontWeight: "bold", fill: "#111" }));
  graphic.push({ type: "rect", z: 19, shape: { x: 345, y: 84, width: 136, height: 26 }, style: { fill: "#fff", stroke: "#111", lineWidth: 1.5 } });
  graphic.push(txt(353, 97, "45.3% @ 1.1s", 17.7));
  graphic.push(...arrow(345, 110, 325, 152, 1.4, 6));
  [["a", 12, 24], ["b", 527, 22], ["c", 12, 447], ["d", 12, 624], ["e", 527, 624]].forEach(([t, x, y]) => {
    graphic.push(txt(x as number, y as number, t as string, 26, { fontWeight: "bold", fill: "#0c0c0c" }));
  });

  return {
    animation: false,
    backgroundColor: "#fff",
    grid, xAxis, yAxis, series, graphic,
    visualMap: [
      {
        show: false, type: "continuous", seriesIndex: heatIdx, dimension: 2, min: 1.6, max: 9.4,
        inRange: { color: ["#ffffff", "#00ff00"] },
      },
      {
        show: false, type: "continuous", seriesIndex: heatIdx + 1, dimension: 2, min: 0, max: 100,
        inRange: { color: ["#e3e3e3", "#e3e3e3"] },
      },
    ],
    legend: [
      {
        data: windowNames, orient: "vertical", left: 410, top: 676, itemWidth: 17, itemHeight: 8, itemGap: 2.2,
        selectedMode: false, itemStyle: { opacity: 0 }, textStyle: { fontFamily: FONT, fontSize: 15, color: INK },
      },
      {
        data: erpNames, orient: "vertical", left: 897, top: 636, itemWidth: 19, itemHeight: 19, itemGap: 5, icon: "rect",
        selectedMode: false, textStyle: { fontFamily: FONT, fontSize: 20, color: INK },
      },
    ],
  };
}

export default function App() {
  const ref = useRef<HTMLDivElement>(null);
  useEffect(() => {
    const chart = echarts.init(ref.current!, null, { renderer: "svg" });
    chart.setOption(buildOption() as any);
    return () => chart.dispose();
  }, []);
  return <div ref={ref} style={{ position: "absolute", left: 0, top: 0, width: 1067, height: 1001 }} />;
}
